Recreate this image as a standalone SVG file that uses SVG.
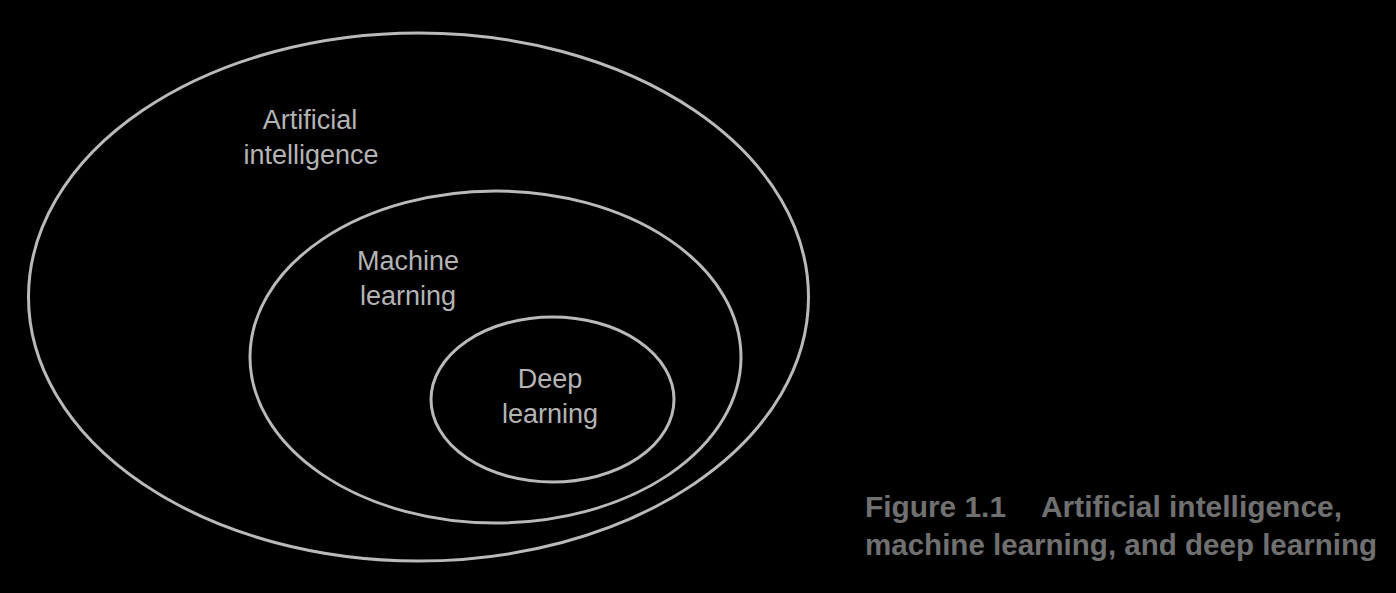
<svg xmlns="http://www.w3.org/2000/svg" width="1396" height="593" viewBox="0 0 1396 593">
<style>
.ring{fill:none;stroke:#bababa;stroke-width:3}
.lbl{font-family:"Liberation Sans",Arial,sans-serif;font-size:27px;fill:#b4b4b4;text-anchor:middle}
.cap{font-family:"Liberation Sans",Arial,sans-serif;font-size:30px;font-weight:bold;fill:#707070}
</style>
<rect width="1396" height="593" fill="#000"/>
<g id="ai">
<ellipse class="ring" cx="418.5" cy="297" rx="390" ry="264"/>
<text class="lbl" x="310" y="129">Artificial</text>
<text class="lbl" x="311" y="164">intelligence</text>
</g>
<g id="ml">
<ellipse class="ring" cx="495.5" cy="357" rx="245.5" ry="166"/>
<text class="lbl" x="408" y="270">Machine</text>
<text class="lbl" x="408" y="305">learning</text>
</g>
<g id="dl">
<ellipse class="ring" cx="552.5" cy="399.5" rx="121.5" ry="82.5"/>
<text class="lbl" x="550" y="388">Deep</text>
<text class="lbl" x="550" y="423">learning</text>
</g>
<g id="connectors"></g>
<g id="caption">
<text class="cap" y="517"><tspan x="865" textLength="141" lengthAdjust="spacingAndGlyphs">Figure 1.1</tspan><tspan x="1041" textLength="301" lengthAdjust="spacingAndGlyphs">Artificial intelligence,</tspan></text>
<text class="cap" x="865" y="555" textLength="512" lengthAdjust="spacingAndGlyphs">machine learning, and deep learning</text>
</g>
</svg>
